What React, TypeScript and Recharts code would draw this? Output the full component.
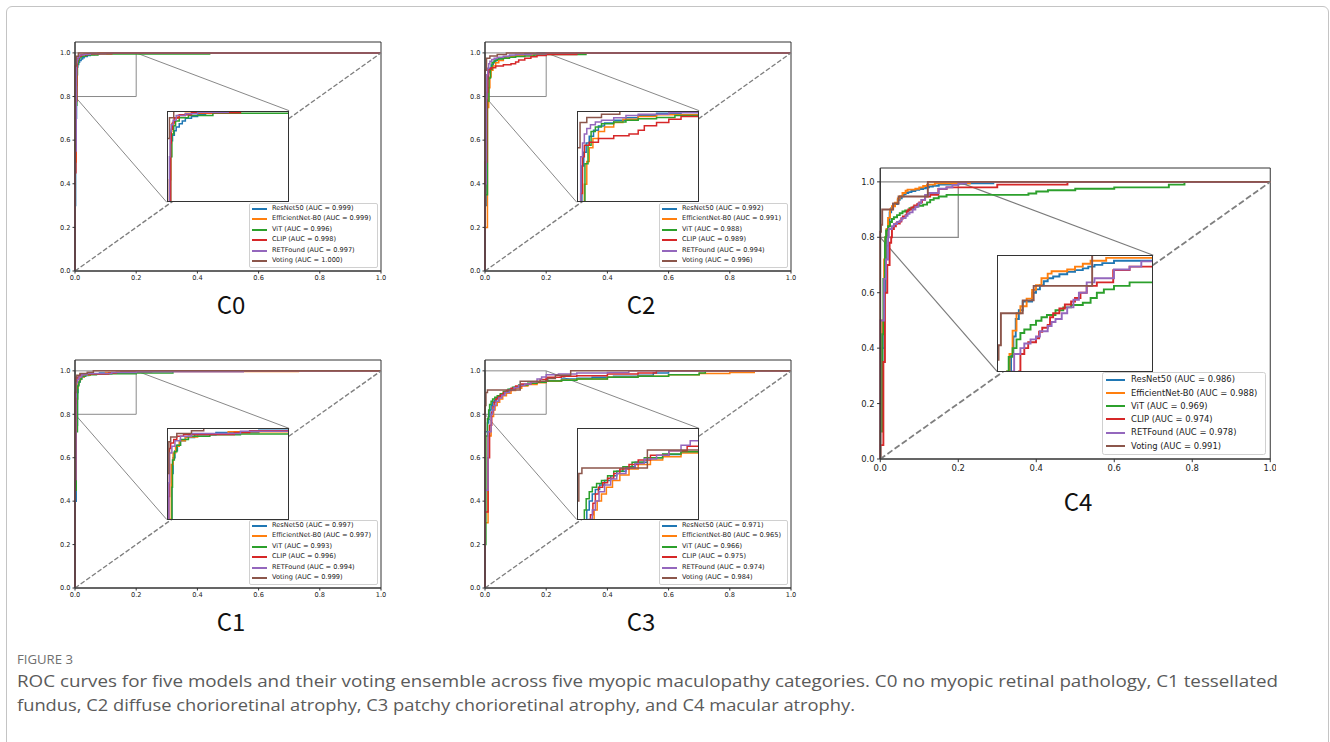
import React from 'react';
import { LineChart, Line, XAxis, YAxis, ReferenceArea, ReferenceLine } from 'recharts';

const MODELS = ['ResNet50', 'EfficientNet-B0', 'ViT', 'CLIP', 'RETFound', 'Voting'];
const COLORS = ['#1f77b4', '#ff7f0e', '#2ca02c', '#d62728', '#9467bd', '#8c564b'];
const TICKS = [0, 0.2, 0.4, 0.6, 0.8, 1.0];
const DIAG: number[][] = [[0, 0], [1, 1]];

const AUC_C0 = ['0.999', '0.999', '0.996', '0.998', '0.997', '1.000'];
const AUC_C1 = ['0.997', '0.997', '0.993', '0.996', '0.994', '0.999'];
const AUC_C2 = ['0.992', '0.991', '0.988', '0.989', '0.994', '0.996'];
const AUC_C3 = ['0.971', '0.965', '0.966', '0.975', '0.974', '0.984'];
const AUC_C4 = ['0.986', '0.988', '0.969', '0.974', '0.978', '0.991'];

// ROC points: [fpr, tpr after the step at that fpr]
const C0_RESNET = [[0,0],[0,0.3],[0.002,0.7],[0.005,0.9],[0.006,0.935],[0.009,0.947],[0.012,0.957],[0.015,0.965],[0.02,0.972],[0.025,0.978],[0.03,0.984],[0.04,0.988],[0.05,0.993],[0.063,0.996],[0.08,1],[1,1]];
const C0_EFF = [[0,0],[0,0.5],[0.004,0.85],[0.006,0.955],[0.008,0.972],[0.012,0.984],[0.018,0.99],[0.03,0.995],[0.075,1],[1,1]];
const C0_VIT = [[0,0],[0,0.58],[0.003,0.76],[0.006,0.9],[0.008,0.95],[0.011,0.968],[0.014,0.978],[0.02,0.985],[0.035,0.99],[0.075,0.995],[0.44,1],[1,1]];
const C0_CLIP = [[0,0],[0,0.45],[0.003,0.78],[0.006,0.93],[0.007,0.96],[0.009,0.975],[0.012,0.985],[0.02,0.992],[0.04,0.996],[0.12,1],[1,1]];
const C0_RET = [[0,0],[0,0.55],[0.004,0.9],[0.005,0.955],[0.007,0.97],[0.01,0.98],[0.015,0.99],[0.03,0.994],[0.05,0.997],[0.1,1],[1,1]];
const C0_VOTE = [[0,0],[0,0.94],[0.004,0.985],[0.011,1],[1,1]];

const C1_RESNET = [[0,0],[0,0.4],[0.004,0.75],[0.008,0.9],[0.01,0.935],[0.013,0.95],[0.017,0.962],[0.022,0.972],[0.03,0.979],[0.045,0.985],[0.08,0.99],[0.15,0.995],[0.25,0.998],[0.35,1],[1,1]];
const C1_EFF = [[0,0],[0,0.5],[0.004,0.8],[0.007,0.92],[0.01,0.945],[0.014,0.96],[0.02,0.972],[0.03,0.98],[0.05,0.987],[0.1,0.992],[0.2,0.997],[0.73,1],[1,1]];
const C1_VIT = [[0,0],[0,0.45],[0.004,0.72],[0.008,0.87],[0.009,0.93],[0.012,0.948],[0.016,0.962],[0.022,0.975],[0.035,0.982],[0.07,0.985],[0.12,0.987],[0.2,0.99],[0.32,1],[1,1]];
const C1_CLIP = [[0,0],[0,0.5],[0.003,0.85],[0.004,0.955],[0.006,0.967],[0.011,0.975],[0.016,0.982],[0.027,0.986],[0.11,0.99],[0.135,0.994],[0.2,0.997],[0.25,1],[1,1]];
const C1_RET = [[0,0],[0,0.5],[0.003,0.88],[0.004,0.945],[0.008,0.96],[0.013,0.972],[0.022,0.982],[0.04,0.988],[0.12,0.993],[0.2,0.996],[0.55,1],[1,1]];
const C1_VOTE = [[0,0],[0,0.9],[0.003,0.97],[0.006,0.98],[0.016,0.988],[0.04,0.994],[0.06,1],[1,1]];

const C2_RESNET = [[0,0],[0,0.3],[0.006,0.8],[0.008,0.88],[0.011,0.91],[0.015,0.93],[0.02,0.945],[0.027,0.958],[0.035,0.967],[0.045,0.974],[0.06,0.98],[0.08,0.985],[0.1,0.99],[0.13,0.995],[0.17,1],[1,1]];
const C2_EFF = [[0,0],[0,0.2],[0.008,0.75],[0.012,0.84],[0.016,0.89],[0.02,0.92],[0.026,0.94],[0.035,0.955],[0.045,0.965],[0.06,0.975],[0.075,0.982],[0.1,0.988],[0.13,0.992],[0.2,1],[1,1]];
const C2_VIT = [[0,0],[0,0.35],[0.008,0.78],[0.013,0.885],[0.018,0.925],[0.023,0.955],[0.03,0.965],[0.04,0.972],[0.06,0.976],[0.08,0.98],[0.1,0.983],[0.13,0.986],[0.16,0.99],[0.2,0.993],[0.33,1],[1,1]];
const C2_CLIP = [[0,0],[0,0.5],[0.006,0.82],[0.009,0.9],[0.012,0.925],[0.02,0.932],[0.035,0.94],[0.06,0.946],[0.085,0.95],[0.1,0.958],[0.11,0.968],[0.13,0.975],[0.15,0.982],[0.17,0.988],[0.2,0.993],[0.3,1],[1,1]];
const C2_RET = [[0,0],[0,0.4],[0.004,0.8],[0.006,0.9],[0.009,0.93],[0.012,0.95],[0.016,0.962],[0.022,0.97],[0.03,0.976],[0.04,0.98],[0.06,0.985],[0.08,0.99],[0.1,0.993],[0.15,0.996],[0.2,1],[1,1]];
const C2_VOTE = [[0,0],[0,0.92],[0.005,0.975],[0.016,0.986],[0.04,0.993],[0.07,1],[1,1]];

const C3_RESNET = [[0,0],[0,0.72],[0.008,0.76],[0.012,0.79],[0.016,0.82],[0.02,0.84],[0.025,0.855],[0.03,0.865],[0.037,0.875],[0.045,0.885],[0.055,0.895],[0.065,0.905],[0.08,0.915],[0.095,0.925],[0.115,0.935],[0.14,0.942],[0.17,0.948],[0.2,0.955],[0.25,0.962],[0.3,0.966],[0.35,0.97],[0.42,0.975],[0.5,0.98],[0.55,0.99],[0.6,1],[1,1]];
const C3_EFF = [[0,0],[0,0.3],[0.01,0.7],[0.02,0.79],[0.028,0.82],[0.033,0.84],[0.04,0.855],[0.048,0.87],[0.058,0.885],[0.07,0.897],[0.085,0.91],[0.1,0.92],[0.12,0.93],[0.14,0.937],[0.17,0.945],[0.2,0.952],[0.25,0.958],[0.3,0.963],[0.4,0.97],[0.5,0.975],[0.6,0.982],[0.7,0.988],[0.8,0.993],[0.88,1],[1,1]];
const C3_VIT = [[0,0],[0,0.2],[0.003,0.7],[0.008,0.78],[0.012,0.82],[0.015,0.845],[0.02,0.86],[0.025,0.87],[0.032,0.878],[0.04,0.885],[0.05,0.895],[0.06,0.905],[0.075,0.915],[0.09,0.925],[0.11,0.935],[0.14,0.943],[0.17,0.948],[0.2,0.953],[0.25,0.957],[0.3,0.962],[0.4,0.97],[0.5,0.975],[0.6,0.982],[0.7,0.99],[0.72,1],[1,1]];
const C3_CLIP = [[0,0],[0,0.35],[0.01,0.6],[0.015,0.75],[0.022,0.81],[0.026,0.835],[0.03,0.855],[0.035,0.87],[0.042,0.88],[0.05,0.89],[0.06,0.9],[0.07,0.91],[0.085,0.92],[0.1,0.93],[0.12,0.94],[0.15,0.95],[0.18,0.96],[0.2,0.97],[0.25,0.975],[0.3,0.978],[0.4,0.985],[0.5,0.99],[0.56,1],[1,1]];
const C3_RET = [[0,0],[0,0.45],[0.01,0.72],[0.02,0.8],[0.025,0.82],[0.03,0.84],[0.036,0.86],[0.045,0.875],[0.055,0.888],[0.065,0.9],[0.08,0.912],[0.095,0.922],[0.11,0.932],[0.13,0.94],[0.15,0.95],[0.17,0.962],[0.185,0.972],[0.2,0.982],[0.24,0.985],[0.3,0.99],[0.4,0.993],[0.47,1],[1,1]];
const C3_VOTE = [[0,0],[0,0.84],[0.003,0.9],[0.008,0.912],[0.115,0.952],[0.205,0.965],[0.23,0.98],[0.28,1],[1,1]];

const C4_RESNET = [[0,0],[0,0.1],[0.006,0.4],[0.01,0.6],[0.013,0.72],[0.015,0.8],[0.018,0.83],[0.021,0.86],[0.024,0.89],[0.028,0.905],[0.033,0.92],[0.045,0.935],[0.05,0.941],[0.055,0.948],[0.06,0.955],[0.065,0.96],[0.072,0.963],[0.08,0.967],[0.09,0.971],[0.1,0.974],[0.11,0.977],[0.117,0.98],[0.125,0.983],[0.135,0.986],[0.15,0.99],[0.2,0.993],[0.22,0.995],[0.29,1],[1,1]];
const C4_EFF = [[0,0],[0,0.1],[0.005,0.5],[0.01,0.72],[0.013,0.8],[0.016,0.83],[0.02,0.87],[0.025,0.9],[0.03,0.912],[0.038,0.925],[0.045,0.94],[0.05,0.948],[0.057,0.96],[0.065,0.968],[0.07,0.972],[0.09,0.975],[0.1,0.98],[0.11,0.985],[0.12,0.99],[0.14,0.995],[0.23,1],[1,1]];
const C4_VIT = [[0,0],[0,0.1],[0.005,0.45],[0.008,0.65],[0.012,0.78],[0.013,0.8],[0.015,0.825],[0.02,0.84],[0.025,0.855],[0.03,0.866],[0.035,0.872],[0.043,0.88],[0.05,0.887],[0.057,0.893],[0.064,0.897],[0.075,0.905],[0.085,0.91],[0.095,0.914],[0.11,0.918],[0.12,0.926],[0.128,0.935],[0.137,0.941],[0.15,0.947],[0.17,0.953],[0.38,0.958],[0.4,0.965],[0.43,0.97],[0.5,0.975],[0.6,0.98],[0.74,0.99],[0.78,1],[1,1]];
const C4_CLIP = [[0,0],[0,0.05],[0.008,0.35],[0.012,0.6],[0.018,0.7],[0.024,0.78],[0.028,0.8],[0.03,0.83],[0.035,0.84],[0.04,0.85],[0.05,0.857],[0.054,0.868],[0.058,0.875],[0.065,0.88],[0.068,0.893],[0.072,0.9],[0.08,0.908],[0.087,0.915],[0.095,0.92],[0.1,0.926],[0.107,0.935],[0.115,0.947],[0.128,0.953],[0.149,0.974],[0.17,0.98],[0.3,0.99],[0.48,1],[1,1]];
const C4_RET = [[0,0],[0,0.5],[0.01,0.65],[0.015,0.72],[0.02,0.8],[0.022,0.83],[0.03,0.84],[0.035,0.848],[0.043,0.855],[0.05,0.86],[0.055,0.869],[0.065,0.878],[0.07,0.885],[0.075,0.89],[0.083,0.9],[0.09,0.91],[0.098,0.923],[0.105,0.935],[0.115,0.953],[0.125,0.96],[0.15,0.975],[0.17,0.98],[0.185,0.989],[0.2,0.995],[0.22,1],[1,1]];
const C4_VOTE = [[0,0],[0,0.82],[0.002,0.845],[0.005,0.9],[0.033,0.922],[0.047,0.947],[0.122,1],[1,1]];

const CAPTION_HEAD = 'FIGURE 3';
const CAPTION_LINES = [
  'ROC curves for five models and their voting ensemble across five myopic maculopathy categories. C0 no myopic retinal pathology, C1 tessellated',
  'fundus, C2 diffuse chorioretinal atrophy, C3 patchy chorioretinal atrophy, and C4 macular atrophy.',
];

type Geo = { left: number; top: number; w: number; h: number; s: number };
type PanelDef = { title: string; geo: Geo; curves: number[][][]; aucs: string[] };

const PANELS: PanelDef[] = [
  { title: 'C0', geo: { left: 75, top: 42, w: 306, h: 229, s: 1 }, curves: [C0_RESNET, C0_EFF, C0_VIT, C0_CLIP, C0_RET, C0_VOTE], aucs: AUC_C0 },
  { title: 'C2', geo: { left: 485, top: 42, w: 306, h: 229, s: 1 }, curves: [C2_RESNET, C2_EFF, C2_VIT, C2_CLIP, C2_RET, C2_VOTE], aucs: AUC_C2 },
  { title: 'C1', geo: { left: 75, top: 360, w: 306, h: 228, s: 1 }, curves: [C1_RESNET, C1_EFF, C1_VIT, C1_CLIP, C1_RET, C1_VOTE], aucs: AUC_C1 },
  { title: 'C3', geo: { left: 485, top: 360, w: 306, h: 228, s: 1 }, curves: [C3_RESNET, C3_EFF, C3_VIT, C3_CLIP, C3_RET, C3_VOTE], aucs: AUC_C3 },
  { title: 'C4', geo: { left: 880, top: 168, w: 390, h: 291, s: 1.275 }, curves: [C4_RESNET, C4_EFF, C4_VIT, C4_CLIP, C4_RET, C4_VOTE], aucs: AUC_C4 },
];

const toPts = (arr: number[][]) => arr.map(([x, y]) => ({ x, y }));

function Panel({ def }: { def: PanelDef }) {
  const { left, top, w, h, s } = def.geo;
  const padL = 30 * s;
  const padT = 6;
  const padR = 6;
  const padB = 20 * s;
  const fs = 6.6 * s;
  const lw = 1.5 * s;
  const font = 'DejaVu Sans';
  const tickStyle = { fontSize: fs, fill: '#222', fontFamily: font };
  const fmt = (v: number) => v.toFixed(1);

  const insL = left + 0.3 * w;
  const insT = top + 0.3 * h;
  const insW = 0.4 * w;
  const insH = 0.4 * h;

  const legW = 129 * s;
  const legH = 65 * s;
  const legL = Math.round(left + w - 3 * s - legW);
  const legT = Math.round(top + h - 3 * s - legH);
  const sampleH = Math.max(2, Math.round(lw));

  return (
    <>
      <div style={{ position: 'absolute', left: left - padL, top: top - padT }}>
        <LineChart width={padL + w + padR} height={padT + h + padB} margin={{ top: padT, right: padR, left: 0, bottom: 0 }}>
          <XAxis type="number" dataKey="x" domain={[0, 1]} ticks={TICKS} tickFormatter={fmt} height={padB}
            tick={tickStyle} tickSize={2.5 * s} tickMargin={2 * s} axisLine={{ stroke: '#333' }} tickLine={{ stroke: '#333' }} />
          <YAxis type="number" dataKey="y" domain={[0, 1.05]} ticks={TICKS} tickFormatter={fmt} width={padL}
            tick={tickStyle} tickSize={2.5 * s} tickMargin={2 * s} axisLine={{ stroke: '#333' }} tickLine={{ stroke: '#333' }} />
          <ReferenceArea x1={0} x2={0.2} y1={0.8} y2={1} fill="none" fillOpacity={0} stroke="#8a8a8a" strokeWidth={1 * s} />
          <ReferenceLine segment={[{ x: 0, y: 0.8 }, { x: 0.3, y: 0.315 }]} stroke="#7a7a7a" strokeWidth={0.9 * s} />
          <ReferenceLine segment={[{ x: 0.2, y: 1 }, { x: 0.7, y: 0.735 }]} stroke="#7a7a7a" strokeWidth={0.9 * s} />
          {def.curves.map((c, i) => (
            <Line key={i} data={toPts(c)} dataKey="y" type="stepAfter" stroke={COLORS[i]} strokeWidth={lw}
              dot={false} activeDot={false} isAnimationActive={false} />
          ))}
          <Line data={toPts(DIAG)} dataKey="y" type="linear" stroke="#7f7f7f" strokeWidth={1.4 * s}
            strokeDasharray={`${4.8 * s} ${2.1 * s}`} dot={false} activeDot={false} isAnimationActive={false} />
          <ReferenceArea x1={0} x2={1} y1={0} y2={1.05} fill="none" fillOpacity={0} stroke="#333" strokeWidth={1} />
        </LineChart>
      </div>

      <div style={{ position: 'absolute', left: insL, top: insT, width: insW, height: insH, background: '#fff' }}>
        <LineChart width={insW} height={insH} margin={{ top: 0, right: 0, left: 0, bottom: 0 }}>
          <XAxis type="number" dataKey="x" domain={[0, 0.2]} allowDataOverflow hide />
          <YAxis type="number" dataKey="y" domain={[0.8, 1]} allowDataOverflow hide />
          {def.curves.map((c, i) => (
            <Line key={i} data={toPts(c)} dataKey="y" type="stepAfter" stroke={COLORS[i]} strokeWidth={lw}
              dot={false} activeDot={false} isAnimationActive={false} />
          ))}
        </LineChart>
        <div style={{ position: 'absolute', left: 0, top: 0, width: insW, height: insH, boxSizing: 'border-box', border: '1px solid #333' }} />
      </div>

      <div style={{ position: 'absolute', left: legL, top: legT, width: legW, height: legH, boxSizing: 'border-box',
        border: '1px solid #d0d0d0', borderRadius: 2 * s, background: 'rgba(255,255,255,0.85)' }}>
        {MODELS.map((m, i) => {
          const cy = (6 + i * 10.4) * s;
          return (
            <React.Fragment key={m}>
              <div style={{ position: 'absolute', left: Math.round(2 * s), top: Math.round(cy - sampleH / 2 - 1), width: Math.round(15 * s),
                height: sampleH, background: COLORS[i] }} />
              <div style={{ position: 'absolute', left: 22 * s, top: cy - fs * 0.62 - 1, fontSize: fs, lineHeight: `${fs * 1.2}px`,
                fontFamily: font, color: '#222', whiteSpace: 'nowrap' }}>
                {`${m} (AUC = ${def.aucs[i]})`}
              </div>
            </React.Fragment>
          );
        })}
      </div>

      <div style={{ position: 'absolute', left: left + w / 2 - 60 + 3, top: top + h + 33 * s - 16, width: 120, textAlign: 'center',
        fontSize: 24, lineHeight: '32px', fontFamily: '"Noto Sans CJK SC", "Noto Sans", sans-serif', color: '#111' }}>
        {def.title}
      </div>
    </>
  );
}

export default function App() {
  return (
    <div style={{ position: 'absolute', left: 0, top: 0, width: 1330, height: 742, overflow: 'hidden', background: '#fff' }}>
      <div style={{ position: 'absolute', left: 6, top: 6, width: 1323, height: 800, boxSizing: 'border-box',
        border: '1px solid #c4c4c4', borderRadius: 6 }} />
      {PANELS.map((p) => <Panel key={p.title} def={p} />)}
      <svg width={1330} height={120} style={{ position: 'absolute', left: 0, top: 640 }}>
        <text x={17} y={24} fontSize={13} fill="#707070" fontFamily="Open Sans" textLength={56} lengthAdjust="spacingAndGlyphs">
          {CAPTION_HEAD}
        </text>
        <text x={17} y={47} fontSize={16.5} fill="#5a5a5a" fontFamily="Open Sans" textLength={1261} lengthAdjust="spacingAndGlyphs">
          {CAPTION_LINES[0]}
        </text>
        <text x={17} y={71} fontSize={16.5} fill="#5a5a5a" fontFamily="Open Sans" textLength={838} lengthAdjust="spacingAndGlyphs">
          {CAPTION_LINES[1]}
        </text>
      </svg>
    </div>
  );
}
